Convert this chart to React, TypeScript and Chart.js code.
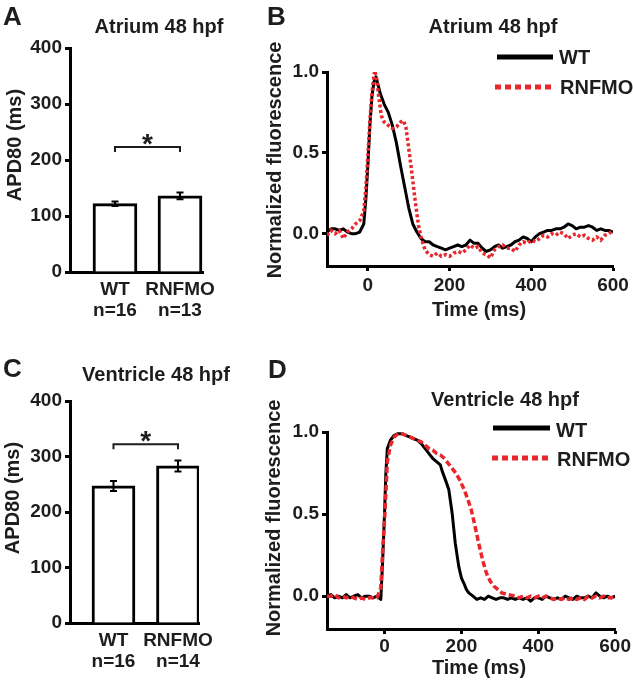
import React, { useEffect, useRef } from 'react';
import { Chart, registerables } from 'chart.js';

Chart.register(...registerables);

const FONT = '"Liberation Sans", Arial, Helvetica, sans-serif';
const INK = '#1d1d1b';
const RED = '#e8262c';

// ---------- Panel A : Atrium 48 hpf, APD80 ----------
const A_CATEGORIES = [['WT', 'n=16'], ['RNFMO', 'n=13']];
const A_VALUES = [122, 136];
const A_ERRORS = [4, 6];
const A_BRACKET = 223;

// ---------- Panel C : Ventricle 48 hpf, APD80 ----------
const C_CATEGORIES = [['WT', 'n=16'], ['RNFMO', 'n=14']];
const C_VALUES = [247, 283];
const C_ERRORS = [9, 10];
const C_BRACKET = 322;

const APD_TICKS = [0, 100, 200, 300, 400];
const TRACE_Y_TICKS = [0, 0.5, 1.0];
const TIME_TICKS = [0, 200, 400, 600];

// ---------- Panel B : Atrium traces ----------
const B_WT_T = [-100, -90, -80, -70, -60, -50, -40, -30, -20, -10, -5, 0, 5, 10, 15, 20, 25, 30, 40, 50, 60, 70, 80, 90, 100, 110, 120, 130, 140, 150, 160, 170, 180, 190, 200, 210, 220, 230, 240, 250, 260, 270, 280, 290, 300, 310, 320, 330, 340, 350, 360, 370, 380, 390, 400, 410, 420, 430, 440, 450, 460, 470, 480, 490, 500, 510, 520, 530, 540, 550, 560, 570, 580, 590, 600];
const B_WT_V = [0.01, 0.03, 0.03, 0.02, 0.03, 0.01, 0.0, 0.0, 0.01, 0.06, 0.21, 0.42, 0.67, 0.85, 0.94, 0.97, 0.92, 0.87, 0.80, 0.75, 0.67, 0.56, 0.42, 0.29, 0.16, 0.06, 0.01, -0.03, -0.05, -0.05, -0.07, -0.08, -0.09, -0.10, -0.09, -0.08, -0.07, -0.08, -0.07, -0.04, -0.06, -0.06, -0.09, -0.11, -0.10, -0.08, -0.07, -0.09, -0.08, -0.07, -0.05, -0.04, -0.02, -0.03, -0.05, -0.02, 0.0, 0.01, 0.02, 0.02, 0.03, 0.03, 0.04, 0.06, 0.05, 0.03, 0.04, 0.04, 0.05, 0.04, 0.02, 0.03, 0.02, 0.02, 0.01];
const B_RN_T = [-100, -90, -80, -70, -60, -50, -40, -30, -20, -10, -5, 0, 5, 10, 15, 17, 22, 27, 33, 40, 50, 60, 70, 80, 87, 93, 100, 108, 116, 124, 132, 140, 150, 160, 170, 180, 190, 200, 210, 220, 230, 240, 250, 260, 270, 280, 290, 300, 310, 320, 330, 340, 350, 360, 370, 380, 390, 400, 410, 420, 430, 440, 450, 460, 470, 480, 490, 500, 510, 520, 530, 540, 550, 560, 570, 580, 590, 600];
const B_RN_V = [-0.01, 0.02, 0.0, 0.02, -0.03, 0.01, 0.03, 0.06, 0.08, 0.14, 0.28, 0.48, 0.70, 0.87, 0.98, 1.01, 0.95, 0.84, 0.73, 0.69, 0.67, 0.65, 0.66, 0.69, 0.70, 0.66, 0.53, 0.37, 0.20, 0.05, -0.04, -0.10, -0.13, -0.14, -0.12, -0.14, -0.13, -0.14, -0.12, -0.11, -0.12, -0.10, -0.07, -0.09, -0.08, -0.12, -0.13, -0.15, -0.10, -0.08, -0.07, -0.09, -0.09, -0.11, -0.07, -0.05, -0.06, -0.04, -0.05, -0.03, -0.01, -0.02, 0.0, -0.01, 0.01, 0.0, -0.03, -0.01, 0.0, -0.02, -0.01, -0.03, -0.04, -0.02, -0.04, -0.01, 0.0, 0.02];

// ---------- Panel D : Ventricle traces ----------
const D_WT_T = [-150, -140, -130, -120, -110, -100, -90, -80, -70, -60, -50, -40, -30, -20, -10, -5, 0, 3, 7, 15, 25, 35, 45, 55, 65, 75, 85, 95, 105, 115, 125, 135, 145, 150, 158, 167, 176, 184, 193, 200, 206, 213, 219, 230, 240, 250, 260, 270, 280, 290, 300, 310, 320, 330, 340, 350, 360, 370, 380, 390, 400, 410, 420, 430, 440, 450, 460, 470, 480, 490, 500, 510, 520, 530, 540, 550, 560, 570, 580, 590, 600];
const D_WT_V = [0.0, 0.01, -0.01, 0.0, -0.01, 0.01, -0.01, 0.0, 0.01, -0.01, 0.0, 0.0, -0.01, 0.0, -0.02, 0.22, 0.52, 0.74, 0.90, 0.95, 0.98, 0.99, 0.99, 0.98, 0.97, 0.96, 0.95, 0.93, 0.90, 0.87, 0.84, 0.82, 0.80, 0.76, 0.71, 0.65, 0.50, 0.32, 0.18, 0.11, 0.08, 0.04, 0.02, 0.0, -0.02, -0.01, -0.02, 0.0, -0.01, -0.02, -0.01, -0.01, -0.02, -0.01, -0.02, -0.01, -0.02, -0.01, -0.03, -0.01, -0.01, -0.02, 0.0, -0.01, -0.02, -0.01, -0.02, 0.0, -0.01, -0.02, 0.0, -0.01, -0.01, 0.0, -0.01, 0.02, 0.0, -0.01, 0.0, -0.01, 0.0];
const D_RN_T = [-150, -140, -130, -120, -110, -100, -90, -80, -70, -60, -50, -40, -30, -20, -10, -5, 0, 3, 7, 15, 25, 35, 45, 55, 65, 75, 85, 95, 105, 115, 125, 135, 145, 155, 165, 175, 185, 195, 205, 215, 225, 235, 245, 255, 265, 275, 285, 295, 305, 320, 340, 350, 360, 370, 380, 390, 400, 410, 420, 430, 440, 450, 460, 470, 480, 490, 500, 510, 520, 530, 540, 550, 560, 570, 580, 590, 600];
const D_RN_V = [0.0, 0.0, 0.01, -0.01, 0.0, -0.01, 0.0, -0.01, -0.02, -0.01, -0.02, -0.01, -0.01, -0.01, 0.05, 0.28, 0.48, 0.62, 0.82, 0.92, 0.97, 0.99, 0.99, 0.98, 0.97, 0.96, 0.95, 0.94, 0.92, 0.90, 0.89, 0.87, 0.86, 0.84, 0.81, 0.78, 0.75, 0.71, 0.66, 0.60, 0.53, 0.43, 0.32, 0.22, 0.14, 0.09, 0.06, 0.04, 0.02, 0.01, 0.0, -0.01, 0.0, -0.01, 0.0, -0.01, 0.0, -0.01, 0.0, -0.01, -0.02, -0.01, -0.02, -0.01, -0.02, -0.01, -0.02, -0.01, -0.02, 0.0, -0.01, 0.0, -0.01, 0.0, -0.01, -0.01, 0.0];

type TextItem = { text: string; x: number; y: number; size: number; align?: CanvasTextAlign; rotate?: boolean; color?: string };
type LegendItem = { label: string; color: string; dash: number[]; x1: number; x2: number; y: number; tx: number; ty: number };
type Decor = {
  ox: number;
  oy: number;
  texts: TextItem[];
  legend?: LegendItem[];
  values?: number[];
  errors?: number[];
  bracket?: number;
};

function makeDecor(d: Decor) {
  return {
    id: 'decor',
    afterDatasetsDraw(chart: any) {
      const ctx: CanvasRenderingContext2D = chart.ctx;
      const xs = chart.scales.x;
      const ys = chart.scales.y;
      ctx.save();
      if (d.values && d.errors) {
        ctx.strokeStyle = '#000';
        ctx.lineWidth = 2;
        d.values.forEach((v, i) => {
          const px = xs.getPixelForValue(i);
          const t = ys.getPixelForValue(v + d.errors![i]);
          const b = ys.getPixelForValue(v - d.errors![i]);
          ctx.beginPath();
          ctx.moveTo(px, t);
          ctx.lineTo(px, b);
          ctx.moveTo(px - 3.5, t);
          ctx.lineTo(px + 3.5, t);
          ctx.moveTo(px - 3.5, b);
          ctx.lineTo(px + 3.5, b);
          ctx.stroke();
        });
      }
      if (d.bracket !== undefined) {
        const x1 = xs.getPixelForValue(0);
        const x2 = xs.getPixelForValue(1);
        const y = ys.getPixelForValue(d.bracket);
        ctx.strokeStyle = INK;
        ctx.lineWidth = 2;
        ctx.beginPath();
        ctx.moveTo(x1, y + 5);
        ctx.lineTo(x1, y);
        ctx.lineTo(x2, y);
        ctx.lineTo(x2, y + 5);
        ctx.stroke();
        ctx.fillStyle = INK;
        ctx.font = `bold 28px ${FONT}`;
        ctx.textAlign = 'center';
        ctx.textBaseline = 'alphabetic';
        ctx.fillText('*', (x1 + x2) / 2, y + 6);
      }
      ctx.restore();
    },
    afterDraw(chart: any) {
      const ctx: CanvasRenderingContext2D = chart.ctx;
      ctx.save();
      for (const t of d.texts) {
        ctx.fillStyle = t.color || INK;
        ctx.font = `bold ${t.size}px ${FONT}`;
        if (t.rotate) {
          ctx.save();
          ctx.translate(t.x - d.ox, t.y - d.oy);
          ctx.rotate(-Math.PI / 2);
          ctx.textAlign = 'center';
          ctx.textBaseline = 'middle';
          ctx.fillText(t.text, 0, 0);
          ctx.restore();
        } else {
          ctx.textAlign = t.align || 'left';
          ctx.textBaseline = 'alphabetic';
          ctx.fillText(t.text, t.x - d.ox, t.y - d.oy);
        }
      }
      if (d.legend) {
        for (const l of d.legend) {
          ctx.strokeStyle = l.color;
          ctx.lineWidth = 5;
          ctx.setLineDash(l.dash);
          ctx.beginPath();
          ctx.moveTo(l.x1 - d.ox, l.y - d.oy);
          ctx.lineTo(l.x2 - d.ox, l.y - d.oy);
          ctx.stroke();
          ctx.setLineDash([]);
          ctx.fillStyle = INK;
          ctx.font = `bold 20px ${FONT}`;
          ctx.textAlign = 'left';
          ctx.textBaseline = 'alphabetic';
          ctx.fillText(l.label, l.tx - d.ox, l.ty - d.oy);
        }
      }
      ctx.restore();
    },
  };
}

const tickFont = { family: FONT, size: 19, weight: 'bold' as const, lineHeight: 1.1 };

type Box = { left: number; top: number; width: number; height: number };
type Area = { left: number; right: number; top: number; bottom: number };

function barConfig(box: Box, area: Area, cats: string[][], values: number[], errors: number[], bracket: number, barW: number, xmin: number, xmax: number, labelPad: number, decor: Decor) {
  return {
    type: 'bar',
    data: {
      datasets: [
        {
          data: values.map((v, i) => ({ x: i, y: v })),
          backgroundColor: '#ffffff',
          borderColor: '#000000',
          borderWidth: 3,
          borderSkipped: 'bottom',
          barThickness: barW,
        },
      ],
    },
    options: {
      responsive: false,
      animation: false,
      devicePixelRatio: 1,
      layout: { padding: { top: area.top - box.top, right: box.left + box.width - area.right, left: 0, bottom: 0 } },
      plugins: { legend: { display: false }, tooltip: { enabled: false }, title: { display: false } },
      scales: {
        x: {
          type: 'linear',
          offset: false,
          min: xmin,
          max: xmax,
          afterBuildTicks: (s: any) => {
            s.ticks = values.map((_, i) => ({ value: i }));
          },
          afterFit: (s: any) => {
            s.height = box.top + box.height - area.bottom;
          },
          ticks: {
            callback: (_v: any, i: number) => cats[i],
            color: INK,
            font: tickFont,
            padding: labelPad,
            maxRotation: 0,
            autoSkip: false,
          },
          grid: { display: false, offset: false },
          border: { display: true, color: '#000', width: 3 },
        },
        y: {
          min: 0,
          max: 400,
          afterBuildTicks: (s: any) => {
            s.ticks = APD_TICKS.map((v) => ({ value: v }));
          },
          afterFit: (s: any) => {
            s.width = area.left - box.left;
          },
          ticks: { color: INK, font: tickFont, padding: 3 },
          grid: { drawOnChartArea: false, tickLength: 5, tickWidth: 3, color: '#000' },
          border: { display: true, color: '#000', width: 3 },
        },
      },
    },
    plugins: [makeDecor({ ...decor, values, errors, bracket })],
  };
}

function lineConfig(box: Box, area: Area, wtT: number[], wtV: number[], rnT: number[], rnV: number[], xmin: number, rnDash: number[], labelPad: number, decor: Decor) {
  return {
    type: 'line',
    data: {
      datasets: [
        {
          label: 'RNFMO',
          data: rnT.map((t, i) => ({ x: t, y: rnV[i] })),
          borderColor: RED,
          borderWidth: 3.5,
          borderDash: rnDash,
          pointRadius: 0,
          tension: 0,
          fill: false,
        },
        {
          label: 'WT',
          data: wtT.map((t, i) => ({ x: t, y: wtV[i] })),
          borderColor: '#000000',
          borderWidth: 3,
          borderJoinStyle: 'round',
          pointRadius: 0,
          tension: 0,
          fill: false,
        },
      ],
    },
    options: {
      responsive: false,
      animation: false,
      devicePixelRatio: 1,
      layout: { padding: { top: area.top - box.top, right: box.left + box.width - area.right, left: 0, bottom: 0 } },
      plugins: { legend: { display: false }, tooltip: { enabled: false }, title: { display: false } },
      scales: {
        x: {
          type: 'linear',
          min: xmin,
          max: 600,
          afterBuildTicks: (s: any) => {
            s.ticks = TIME_TICKS.map((v) => ({ value: v }));
          },
          afterFit: (s: any) => {
            s.height = box.top + box.height - area.bottom;
          },
          ticks: { color: INK, font: tickFont, padding: labelPad, maxRotation: 0, autoSkip: false, callback: (v: any) => String(v) },
          grid: { drawOnChartArea: false, tickLength: 5, tickWidth: 3, color: '#000' },
          border: { display: true, color: '#000', width: 3 },
        },
        y: {
          min: -0.2,
          max: 1.0,
          afterBuildTicks: (s: any) => {
            s.ticks = TRACE_Y_TICKS.map((v) => ({ value: v }));
          },
          afterFit: (s: any) => {
            s.width = area.left - box.left;
          },
          ticks: { color: INK, font: tickFont, padding: 3, callback: (v: any) => Number(v).toFixed(1) },
          grid: { drawOnChartArea: false, tickLength: 5, tickWidth: 3, color: '#000' },
          border: { display: true, color: '#000', width: 3 },
        },
      },
    },
    plugins: [makeDecor(decor)],
  };
}

function Panel({ box, make }: { box: Box; make: () => any }) {
  const ref = useRef<HTMLCanvasElement>(null);
  useEffect(() => {
    const chart = new Chart(ref.current as HTMLCanvasElement, make());
    return () => chart.destroy();
  }, []);
  return (
    <canvas
      ref={ref}
      width={box.width}
      height={box.height}
      style={{ position: 'absolute', left: box.left, top: box.top, width: box.width, height: box.height, display: 'block' }}
    />
  );
}

const BOX_A: Box = { left: 0, top: 0, width: 240, height: 335 };
const BOX_B: Box = { left: 225, top: 0, width: 408, height: 335 };
const BOX_C: Box = { left: 0, top: 340, width: 240, height: 343 };
const BOX_D: Box = { left: 225, top: 340, width: 408, height: 343 };

export default function App() {
  return (
    <div style={{ position: 'absolute', left: 0, top: 0, width: 633, height: 683, background: '#fff', overflow: 'hidden' }}>
      <Panel
        box={BOX_A}
        make={() =>
          barConfig(BOX_A, { left: 70, right: 203, top: 48, bottom: 272 }, A_CATEGORIES, A_VALUES, A_ERRORS, A_BRACKET, 44, -0.692, 1.354, -1, {
            ox: BOX_A.left,
            oy: BOX_A.top,
            texts: [
              { text: 'A', x: 3, y: 25, size: 26 },
              { text: 'Atrium 48 hpf', x: 159, y: 33, size: 20, align: 'center' },
              { text: 'APD80 (ms)', x: 15, y: 145, size: 20, rotate: true },
            ],
          })
        }
      />
      <Panel
        box={BOX_B}
        make={() =>
          lineConfig(BOX_B, { left: 327, right: 613, top: 72, bottom: 266 }, B_WT_T, B_WT_V, B_RN_T, B_RN_V, -100, [3, 2.5], 4, {
            ox: BOX_B.left,
            oy: BOX_B.top,
            texts: [
              { text: 'B', x: 267, y: 25, size: 26 },
              { text: 'Atrium 48 hpf', x: 493, y: 33, size: 20, align: 'center' },
              { text: 'Normalized fluorescence', x: 275, y: 160, size: 20, rotate: true },
              { text: 'Time (ms)', x: 479, y: 316, size: 20, align: 'center' },
            ],
            legend: [
              { label: 'WT', color: '#000', dash: [], x1: 497, x2: 553, y: 57, tx: 559, ty: 63.5 },
              { label: 'RNFMO', color: RED, dash: [6, 4], x1: 495, x2: 553, y: 87, tx: 560, ty: 93.5 },
            ],
          })
        }
      />
      <Panel
        box={BOX_C}
        make={() =>
          barConfig(BOX_C, { left: 70, right: 199, top: 401, bottom: 623 }, C_CATEGORIES, C_VALUES, C_ERRORS, C_BRACKET, 43, -0.674, 1.326, -1, {
            ox: BOX_C.left,
            oy: BOX_C.top,
            texts: [
              { text: 'C', x: 3, y: 377, size: 26 },
              { text: 'Ventricle 48 hpf', x: 156, y: 381, size: 20, align: 'center' },
              { text: 'APD80 (ms)', x: 13, y: 498, size: 20, rotate: true },
            ],
          })
        }
      />
      <Panel
        box={BOX_D}
        make={() =>
          lineConfig(BOX_D, { left: 327, right: 616, top: 432, bottom: 629 }, D_WT_T, D_WT_V, D_RN_T, D_RN_V, -150, [6, 3], 2, {
            ox: BOX_D.left,
            oy: BOX_D.top,
            texts: [
              { text: 'D', x: 268, y: 378, size: 26 },
              { text: 'Ventricle 48 hpf', x: 505, y: 406, size: 20, align: 'center' },
              { text: 'Normalized fluorescence', x: 274, y: 518, size: 20, rotate: true },
              { text: 'Time (ms)', x: 479, y: 674, size: 20, align: 'center' },
            ],
            legend: [
              { label: 'WT', color: '#000', dash: [], x1: 493, x2: 550, y: 428, tx: 556, ty: 437 },
              { label: 'RNFMO', color: RED, dash: [6, 4], x1: 492, x2: 550, y: 458, tx: 557, ty: 466 },
            ],
          })
        }
      />
    </div>
  );
}
